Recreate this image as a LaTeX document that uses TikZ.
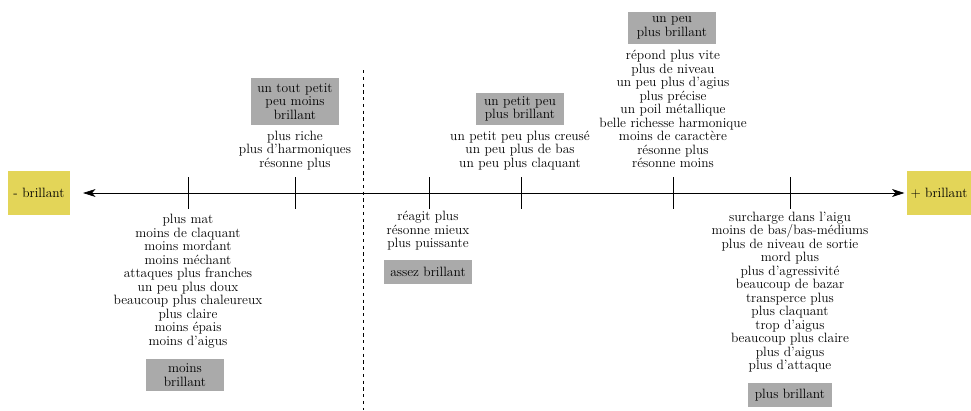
\documentclass[tikz,border=0pt]{standalone}
\usetikzlibrary{arrows.meta}
\definecolor{ybox}{RGB}{227,213,88}
\definecolor{gbox}{RGB}{170,170,170}
\tikzset{
  endbox/.style={fill=ybox, minimum width=55pt, minimum height=39pt, inner sep=2pt},
  gradebox/.style={fill=gbox, align=center, minimum width=79pt, minimum height=21.5pt, inner xsep=3.33pt, inner ysep=3.4pt},
  twoline/.style={minimum height=28.4pt},
  threeline/.style={minimum height=41.8pt},
  desc/.style={align=center, inner sep=0pt},
  axisline/.style={semithick, {Stealth[length=11pt,width=7pt,inset=3pt]}-{Stealth[length=11pt,width=7pt,inset=3pt]}},
  ticksty/.style={thin},
}
\begin{document}
\begin{tikzpicture}[x=0.8889pt, y=-0.8889pt, font=\fontsize{12}{12}\selectfont]
\useasboundingbox (0,0) rectangle (971,410);
% end boxes
\node[endbox] (lo) at (39,193) {- brillant};
\node[endbox, minimum width=57pt] (hi) at (939,193) {+ brillant};
\draw[axisline, shorten <=11.5pt, shorten >=2pt] (lo.east) -- (hi.west);
% ticks
\foreach \n/\x in {a1/188, a2/295, a3/429, a4/521, a5/673, a6/790}{
  \coordinate (\n) at (\x,193);
  \draw[ticksty] (\n) +(0,-16) -- +(0,16);
}
% dashed separator
\coordinate (dtop) at (363,70);
\coordinate (dbot) at (363,410);
\draw[dashed] (dtop) -- (dbot);
% descriptions and grades
\node[desc] (d1) at (188,281) {plus mat\\moins de claquant\\moins mordant\\moins méchant\\attaques plus franches\\un peu plus doux\\beaucoup plus chaleureux\\plus claire\\moins épais\\moins d'aigus};
\node[gradebox, twoline, minimum width=69pt] (g1) at (185,375) {moins\\brillant};
\node[desc] (d2) at (295,150.5) {plus riche\\plus d'harmoniques\\résonne plus};
\node[gradebox, threeline] (g2) at (295,101.5) {un tout petit\\peu moins\\brillant};
\node[desc] (d3) at (428,231) {réagit plus\\résonne mieux\\plus puissante};
\node[gradebox] (g3) at (428,272) {assez brillant};
\node[desc] (d4) at (520,150.5) {un petit peu plus creusé\\un peu plus de bas\\un peu plus claquant};
\node[gradebox, twoline] (g4) at (520,109) {un petit peu\\plus brillant};
\node[desc] (d5) at (673,109) {répond plus vite\\plus de niveau\\un peu plus d'agius\\plus précise\\un poil métallique\\belle richesse harmonique\\moins de caractère\\résonne plus\\résonne moins};
\node[gradebox, twoline] (g5) at (672,28) {un peu\\plus brillant};
\node[desc] (d6) at (790,292) {surcharge dans l'aigu\\moins de bas/bas-médiums\\plus de niveau de sortie\\mord plus\\plus d'agressivité\\beaucoup de bazar\\transperce plus\\plus claquant\\trop d'aigus\\beaucoup plus claire\\plus d'aigus\\plus d'attaque};
\node[gradebox, minimum width=74.7pt] (g6) at (790,395) {plus brillant};
\end{tikzpicture}
\end{document}
